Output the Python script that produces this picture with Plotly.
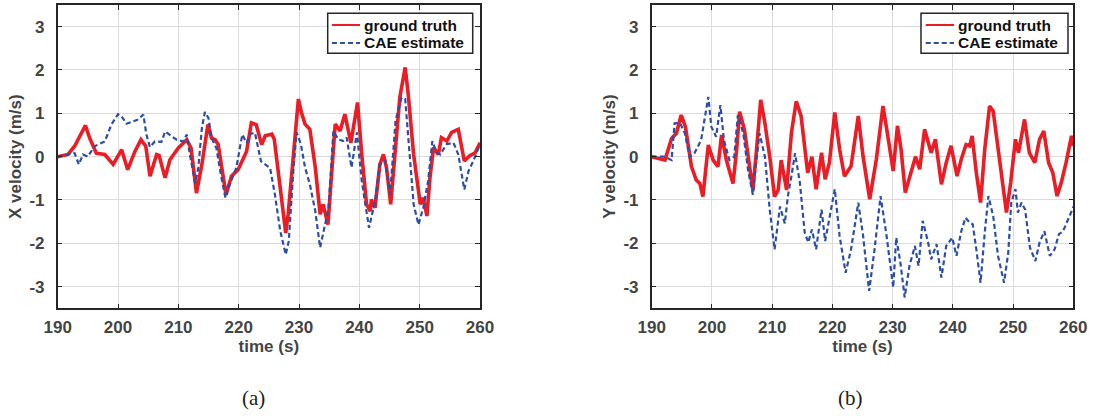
import plotly.graph_objects as go
from plotly.subplots import make_subplots

# ---- Data ----
# (a) X velocity
xa_gt_t = [190.0, 191.7, 192.8, 193.7, 194.6, 195.3, 196.4, 197.8, 199.2, 200.6, 201.6, 202.8, 203.8, 204.6,
           205.3, 206.4, 206.8, 207.8, 208.6, 210.0, 211.4, 212.1, 213.0, 213.9, 214.9, 215.5, 216.1, 216.6,
           217.9, 218.8, 219.9, 221.3, 222.1, 222.9, 223.8, 224.4, 225.5, 225.9, 226.9, 227.8, 228.2, 229.1,
           229.9, 230.4, 231.0, 231.8, 232.7, 233.5, 234.0, 234.8, 235.4, 236.0, 236.8, 237.6, 238.6, 239.7,
           240.4, 241.2, 241.8, 242.0, 242.6, 243.4, 244.0, 244.5, 245.2, 246.2, 246.7, 247.6, 248.1, 249.0,
           250.1, 250.6, 251.2, 251.7, 252.3, 253.1, 253.6, 254.5, 255.3, 256.4, 257.4, 258.3, 259.2, 260.0]
xa_gt_v = [0.0, 0.05, 0.24, 0.47, 0.72, 0.43, 0.08, 0.05, -0.18, 0.16, -0.30, 0.12, 0.39, 0.24,
           -0.45, 0.05, 0.03, -0.49, -0.07, 0.20, 0.39, 0.20, -0.84, -0.18, 0.74, 0.43, 0.39, 0.28,
           -0.88, -0.45, -0.30, 0.12, 0.78, 0.74, 0.28, 0.48, 0.52, 0.40, -0.72, -1.76, -1.33, 0.21,
           1.33, 1.02, 0.75, 0.63, -0.25, -1.33, -1.10, -1.57, -0.41, 0.75, 0.59, 0.98, 0.32, 1.25,
           0.05, -1.10, -1.26, -0.99, -1.18, -0.18, 0.05, -0.25, -1.10, 0.44, 1.36, 2.06, 1.44, 0.05,
           -1.10, -0.95, -1.37, -0.49, 0.21, 0.05, 0.44, 0.36, 0.56, 0.63, -0.10, 0.02, 0.09, 0.32]
xa_est_t = [190.0, 191.7, 192.8, 193.5, 194.2, 195.0, 196.1, 197.8, 198.9, 200.0, 200.6, 201.4, 202.5,
            203.2, 204.2, 204.7, 205.3, 206.1, 207.2, 207.8, 208.9, 209.7, 210.8, 211.4, 211.9, 212.8,
            213.3, 213.9, 214.4, 215.0, 215.5, 216.3, 217.0, 217.8, 218.5, 219.6, 220.6, 221.3, 222.0,
            222.7, 223.7, 225.2, 226.0, 226.9, 227.8, 228.3, 229.1, 229.6, 230.3, 231.0, 231.8, 232.7,
            233.5, 234.2, 234.9, 235.7, 236.5, 237.3, 237.9, 238.7, 239.6, 240.4, 241.6, 242.6, 243.4,
            244.3, 245.1, 246.0, 247.0, 247.6, 248.4, 249.0, 249.8, 250.6, 251.4, 252.1, 252.8, 253.4,
            254.5, 255.6, 256.4, 257.4, 258.1, 258.9, 260.0]
xa_est_v = [0.0, 0.05, 0.08, -0.18, 0.05, 0.0, 0.24, 0.35, 0.74, 0.98, 0.93, 0.76, 0.82,
            0.85, 0.97, 0.51, 0.22, 0.35, 0.34, 0.58, 0.47, 0.39, 0.35, 0.51, 0.05, -0.61,
            -0.26, 0.66, 1.03, 0.89, 0.43, 0.20, -0.38, -0.95, -0.65, -0.26, 0.51, 0.32, 0.53,
            0.55, -0.11, -0.26, -0.87, -1.72, -2.26, -1.95, -0.25, 0.56, 0.29, -0.25, -0.64, -1.26,
            -2.10, -1.64, -1.18, 0.59, 0.40, 0.36, 0.44, -0.25, 0.56, -0.56, -1.64, -1.03, -0.18,
            -0.10, -0.87, 0.83, 1.36, 1.33, 0.05, -1.10, -1.57, -1.18, -0.56, 0.36, 0.09, 0.05,
            0.29, 0.32, 0.05, -0.76, -0.33, -0.10, 0.29]

# (b) Y velocity
yb_gt_t = [190.0, 192.2, 193.3, 194.1, 194.9, 195.6, 196.6, 197.4, 198.0, 198.5, 199.4, 200.2, 201.0,
           201.6, 202.4, 203.5, 204.1, 204.6, 205.4, 206.3, 206.8, 207.4, 208.1, 208.8, 209.6, 210.4,
           211.0, 211.5, 212.4, 213.2, 214.0, 214.8, 215.9, 216.6, 217.3, 218.2, 218.8, 219.5, 220.4,
           221.2, 222.0, 223.1, 224.3, 225.1, 226.2, 227.3, 228.4, 229.2, 230.1, 230.8, 231.4, 232.1,
           233.0, 233.8, 234.5, 235.3, 236.4, 237.1, 238.1, 238.9, 239.7, 240.7, 241.4, 242.2, 242.8,
           243.2, 243.9, 244.6, 245.3, 246.1, 246.7, 247.5, 248.3, 248.9, 249.6, 250.4, 250.9, 251.9,
           252.7, 253.6, 254.4, 255.1, 255.9, 256.6, 257.3, 258.0, 258.8, 259.7, 260.0]
yb_gt_v = [0.0, -0.08, 0.42, 0.54, 0.96, 0.69, -0.23, -0.54, -0.62, -0.92, 0.27, -0.08, -0.23,
           0.50, -0.08, -0.62, 0.15, 1.04, 0.62, -0.31, -0.77, 0.15, 1.31, 0.77, 0.0, -0.92,
           -0.77, -0.08, -0.77, 0.55, 1.28, 0.94, -0.37, 0.0, -0.75, 0.09, -0.52, -0.14, 1.02,
           0.17, -0.45, -0.22, 0.94, 0.0, -0.98, -0.06, 1.17, 0.48, -0.33, 0.71, 0.17, -0.83,
           -0.37, 0.0, -0.29, 0.63, 0.09, 0.40, -0.64, -0.14, 0.25, -0.45, -0.06, 0.28, 0.25,
           0.48, -0.37, -1.06, 0.17, 1.17, 1.05, 0.17, -0.75, -1.29, -0.60, 0.40, 0.09, 0.86,
           0.09, -0.14, 0.40, 0.59, -0.14, -0.37, -0.91, -0.60, -0.14, 0.48, 0.25]
yb_est_t = [190.0, 192.2, 193.3, 193.8, 194.7, 195.5, 196.3, 197.1, 198.2, 198.8, 199.4, 199.9, 200.7,
            201.4, 202.0, 202.9, 203.7, 204.3, 205.2, 206.0, 206.8, 207.2, 207.9, 208.8, 209.6, 210.4,
            211.3, 212.1, 212.6, 213.2, 213.8, 214.6, 215.4, 216.0, 216.6, 217.3, 218.2, 218.8, 219.8,
            220.4, 221.2, 222.2, 223.1, 224.3, 225.1, 226.1, 227.0, 228.0, 229.0, 230.1, 230.6, 231.3,
            232.0, 232.8, 233.7, 234.3, 235.0, 235.9, 236.4, 237.3, 238.1, 238.9, 239.9, 240.6, 241.4,
            242.1, 242.8, 243.3, 243.9, 244.6, 245.3, 245.9, 246.7, 247.5, 248.5, 249.2, 249.7, 250.4,
            250.8, 251.4, 252.0, 252.8, 253.7, 254.4, 255.2, 256.1, 256.9, 257.6, 258.3, 259.1, 259.9, 260.0]
yb_est_v = [0.0, 0.0, -0.08, 0.77, 0.78, 0.54, 0.0, 0.08, 0.38, 0.92, 1.38, 0.69, 0.46,
            1.19, 0.38, -0.08, 0.0, 0.96, 0.54, -0.31, -0.88, -0.31, 0.54, 0.0, -1.23, -2.14,
            -1.15, -1.54, -0.92, -0.45, 0.08, -0.60, -1.75, -1.98, -1.68, -2.14, -1.22, -1.95, -1.14,
            -0.75, -1.83, -2.68, -2.14, -1.06, -1.83, -3.10, -2.14, -0.91, -1.83, -3.02, -1.87, -2.45,
            -3.25, -2.52, -2.06, -2.52, -1.48, -1.98, -2.37, -2.02, -2.79, -2.06, -1.87, -2.29, -1.72,
            -1.41, -1.52, -1.56, -2.14, -2.91, -1.75, -0.91, -1.37, -2.29, -2.91, -2.22, -1.06, -0.75,
            -1.29, -1.06, -1.22, -2.10, -2.41, -1.98, -1.72, -2.29, -2.14, -1.79, -1.72, -1.48, -1.20, -1.15]

x_ticks = [190, 200, 210, 220, 230, 240, 250, 260]
y_ticks = [-3, -2, -1, 0, 1, 2, 3]
y_tick_labels = ["-3", "-2", "-1", "0", "1", "2", "3"]
y_titles = ["X velocity (m/s)", "Y velocity (m/s)"]
captions = ["(a)", "(b)"]
names = ["ground truth", "CAE estimate"]

RED = "#ec1c24"
BLUE = "#2b4ea6"
AXC = "#262626"
TXT = "#444444"
FONT = "Arial, 'Liberation Sans', Helvetica, sans-serif"

W, H = 1093, 416


def px(x):
    return x / W


def py(y):
    return 1 - y / H


fig = make_subplots(rows=1, cols=2)

GT_LINE = dict(color=RED, width=3.6)
EST_LINE = dict(color=BLUE, width=2.2, dash="5px,3px")

fig.add_trace(go.Scatter(x=xa_gt_t, y=xa_gt_v, mode="lines", name=names[0], line=GT_LINE), 1, 1)
fig.add_trace(go.Scatter(x=xa_est_t, y=xa_est_v, mode="lines", name=names[1], line=EST_LINE), 1, 1)
fig.add_trace(go.Scatter(x=yb_gt_t, y=yb_gt_v, mode="lines", name=names[0], line=GT_LINE), 1, 2)
fig.add_trace(go.Scatter(x=yb_est_t, y=yb_est_v, mode="lines", name=names[1], line=EST_LINE), 1, 2)

doms_x = [(px(57.7), px(480.0)), (px(651.7), px(1073.3))]
dom_y = (py(308.3), py(5.0))

axis_common = dict(showline=True, linecolor=AXC, linewidth=1.5, mirror="ticks",
                   ticks="inside", ticklen=5, tickwidth=1.2, tickcolor=AXC,
                   showgrid=True, gridcolor="#dcdcdc", gridwidth=1, zeroline=False,
                   automargin=False,
                   tickfont=dict(family=FONT, size=17, color=TXT, weight="bold"))

for i in range(2):
    xa = "xaxis" if i == 0 else "xaxis2"
    ya = "yaxis" if i == 0 else "yaxis2"
    fig.layout[xa].update(domain=list(doms_x[i]), range=[190, 260], tickvals=x_ticks,
                          ticklabelstandoff=3,
                          title=dict(text="time (s)", standoff=2,
                                     font=dict(family=FONT, size=17, color=TXT, weight="bold")),
                          **axis_common)
    fig.layout[ya].update(domain=list(dom_y), range=[-3.5, 3.5], tickvals=y_ticks,
                          ticktext=y_tick_labels, ticklabelstandoff=8,
                          title=dict(text=y_titles[i], standoff=3,
                                     font=dict(family=FONT, size=17, color=TXT, weight="bold")),
                          **axis_common)

fig.update_layout(
    width=W, height=H, margin=dict(l=0, r=0, t=0, b=0, autoexpand=False),
    paper_bgcolor="white", plot_bgcolor="white",
    showlegend=False,
)

# legend boxes (drawn as boxes + sample lines + labels, MATLAB-style compact)
legend_boxes = [(327.7, 472.7, 332.0, 360.0), (921.0, 1068.0, 925.7, 954.0)]
row_y = [25.0, 43.0]
for (bx0, bx1, sx0, sx1) in legend_boxes:
    fig.add_shape(type="rect", xref="paper", yref="paper",
                  x0=px(bx0), x1=px(bx1), y0=py(53.3), y1=py(13.3),
                  fillcolor="white", line=dict(color=AXC, width=1.5), layer="above")
    for ry, nm, ln in zip(row_y, names, [GT_LINE, EST_LINE]):
        fig.add_shape(type="line", xref="paper", yref="paper",
                      x0=px(sx0), x1=px(sx1), y0=py(ry), y1=py(ry),
                      line=dict(color=ln["color"], width=2 if ln is GT_LINE else 2.2,
                                dash=ln.get("dash", "solid")), layer="above")
        fig.add_annotation(text=nm, x=px(sx1 + 2), y=py(ry), xref="paper", yref="paper",
                           showarrow=False, xanchor="left", yanchor="middle",
                           font=dict(family=FONT, size=15.5, color="#111111", weight="bold"))

for cx, cap in zip([253, 850], captions):
    fig.add_annotation(text=cap, x=px(cx), y=py(398), xref="paper", yref="paper",
                       showarrow=False, xanchor="center", yanchor="middle",
                       font=dict(family="'Liberation Serif', serif", size=21, color="#222222"))

fig.write_html("out.html", config={"displayModeBar": False},
               post_script="document.body.style.margin='0';document.body.style.overflow='hidden';")
